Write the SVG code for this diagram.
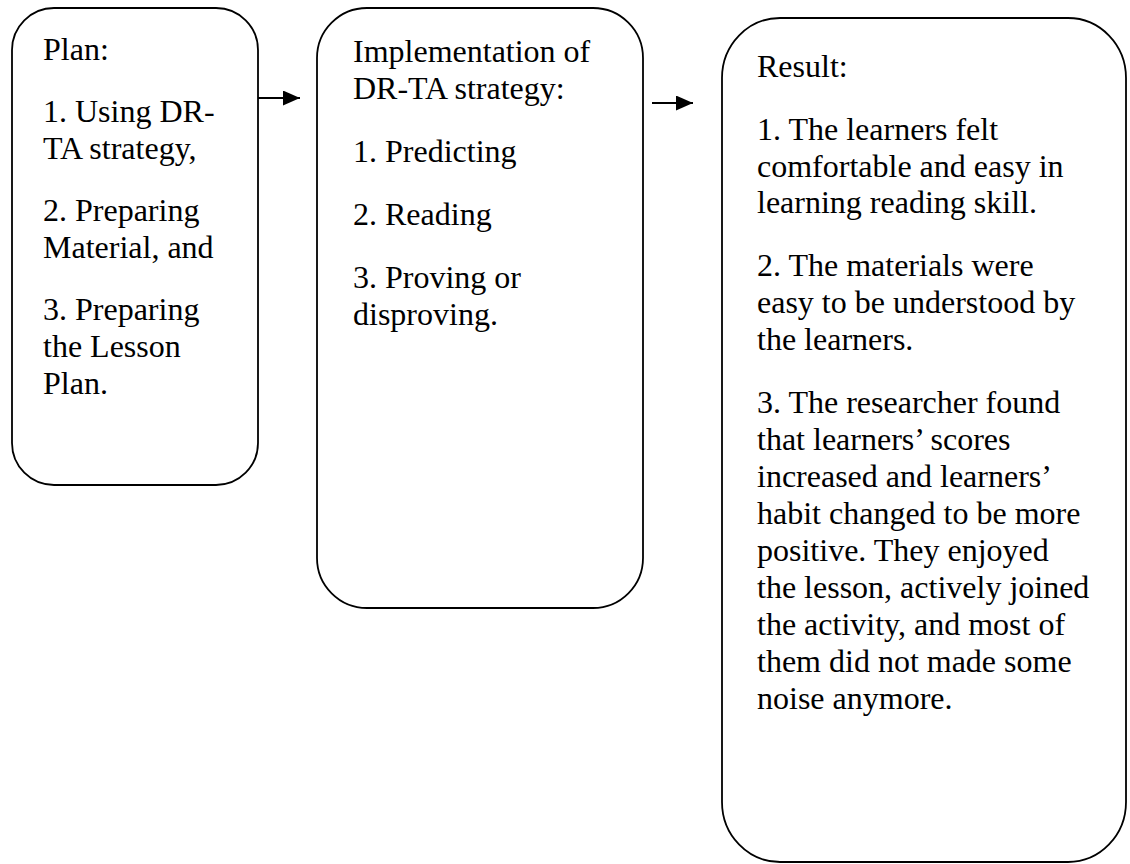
<svg xmlns="http://www.w3.org/2000/svg" width="1130" height="864" viewBox="0 0 1130 864">
<style>
.box{fill:#fff;stroke:#000;stroke-width:1.8}
.t{font-family:"Liberation Serif","Times New Roman",serif;font-size:32px;fill:#000}
.c{stroke:#000;stroke-width:1.8;fill:none}
</style>
<defs>
<marker id="ah" markerUnits="userSpaceOnUse" markerWidth="17" markerHeight="15" refX="17" refY="7.5" orient="auto">
<path d="M0,0 L17,7.5 L0,15 Z" fill="#000"/>
</marker>
</defs>
<rect width="1130" height="864" fill="#fff"/>
<g id="plan">
<rect class="box" x="12" y="8" width="246" height="477" rx="42" ry="42"/>
<text class="t" x="43" y="60">Plan:</text>
<text class="t" x="43" y="122">1. Using DR-</text>
<text class="t" x="43" y="159">TA strategy,</text>
<text class="t" x="43" y="221">2. Preparing</text>
<text class="t" x="43" y="258">Material, and</text>
<text class="t" x="43" y="320">3. Preparing</text>
<text class="t" x="43" y="357">the Lesson</text>
<text class="t" x="43" y="394">Plan.</text>
</g>
<g id="implementation">
<rect class="box" x="317" y="8" width="326" height="600" rx="50" ry="50"/>
<text class="t" x="353" y="62">Implementation of</text>
<text class="t" x="353" y="99">DR-TA strategy:</text>
<text class="t" x="353" y="162">1. Predicting</text>
<text class="t" x="353" y="225">2. Reading</text>
<text class="t" x="353" y="288">3. Proving or</text>
<text class="t" x="353" y="325">disproving.</text>
</g>
<g id="result">
<rect class="box" x="722" y="18" width="404" height="844" rx="58" ry="60"/>
<text class="t" x="757" y="77">Result:</text>
<text class="t" x="757" y="140">1. The learners felt</text>
<text class="t" x="757" y="177">comfortable and easy in</text>
<text class="t" x="757" y="213">learning reading skill.</text>
<text class="t" x="757" y="276">2. The materials were</text>
<text class="t" x="757" y="313">easy to be understood by</text>
<text class="t" x="757" y="350">the learners.</text>
<text class="t" x="757" y="413">3. The researcher found</text>
<text class="t" x="757" y="450">that learners’ scores</text>
<text class="t" x="757" y="487">increased and learners’</text>
<text class="t" x="757" y="524">habit changed to be more</text>
<text class="t" x="757" y="561">positive. They enjoyed</text>
<text class="t" x="757" y="598">the lesson, actively joined</text>
<text class="t" x="757" y="635">the activity, and most of</text>
<text class="t" x="757" y="672">them did not made some</text>
<text class="t" x="757" y="709">noise anymore.</text>
</g>
<g id="connectors">
<line class="c" x1="258" y1="98" x2="300" y2="98" marker-end="url(#ah)"/>
<line class="c" x1="652" y1="103" x2="693" y2="103" marker-end="url(#ah)"/>
</g>
</svg>
